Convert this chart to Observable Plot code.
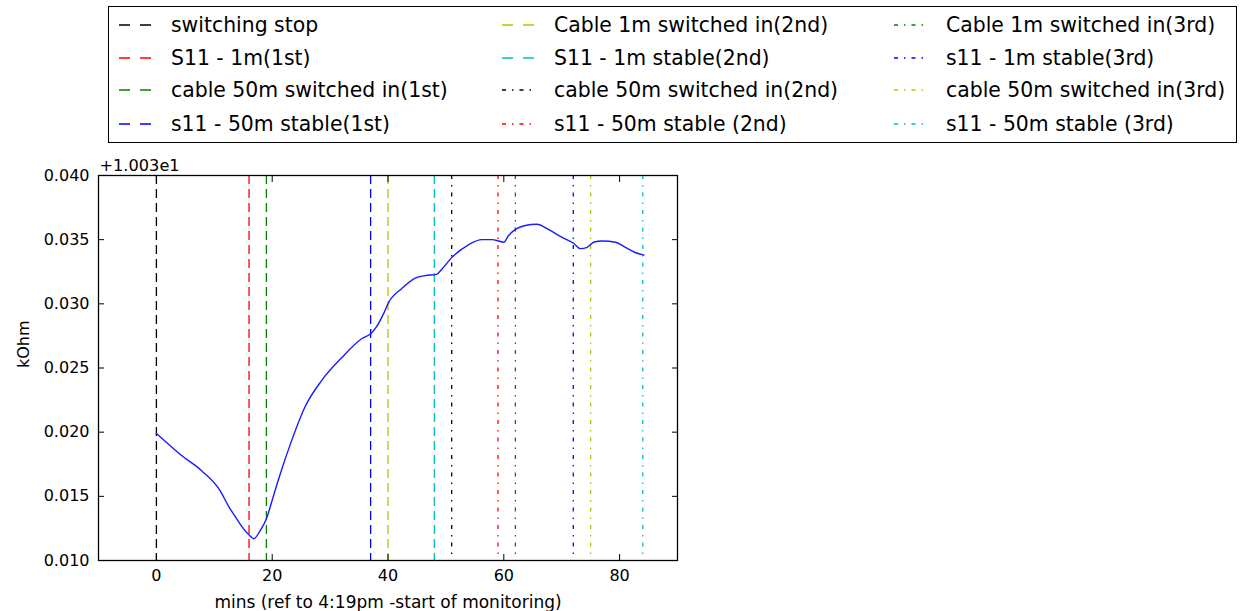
<!DOCTYPE html>
<html><head><meta charset="utf-8">
<script src="https://cdn.jsdelivr.net/npm/d3@7"></script>
<script src="https://cdn.jsdelivr.net/npm/@observablehq/plot@0.6"></script>
<style>
body{margin:0;background:#fff;font-family:"DejaVu Sans",sans-serif;}
#wrap{position:relative;width:1241px;height:611px;overflow:hidden;background:#fff;}
#legend{position:absolute;left:108px;top:6px;width:1127px;height:135px;border:1.5px solid #000;background:#fff;}
.item{position:absolute;height:30px;display:flex;align-items:center;font-size:20.4px;color:#000;white-space:nowrap;}
.item svg{margin-right:20px;}
#chart{position:absolute;left:0;top:150px;}
</style></head><body><div id="wrap"><div id="legend"></div><div id="chart"></div></div>
<script>
// ---- data ----
const eventLabels = [
  "switching stop", "S11 - 1m(1st)", "cable 50m switched in(1st)", "s11 - 50m stable(1st)",
  "Cable 1m switched in(2nd)", "S11 - 1m stable(2nd)", "cable 50m switched in(2nd)", "s11 - 50m stable (2nd)",
  "Cable 1m switched in(3rd)", "s11 - 1m stable(3rd)", "cable 50m switched in(3rd)", "s11 - 50m stable (3rd)"
];
const eventTimes = [0, 16, 19, 37, 40, 48, 51, 59, 62, 72, 75, 84];
const eventColorCodes = ["k", "r", "g", "b", "y", "c", "k", "r", "g", "b", "y", "c"];
const eventLineStyles = ["--", "--", "--", "--", "--", "--", "-.", "-.", "-.", "-.", "-.", "-."];

const minutes = [0, 2, 4.3, 7.8, 11, 12.5, 13.5, 15, 16.1, 16.8, 17.9, 19, 20, 21, 23.4, 25.7, 28.5, 32, 35.5,
  37.1, 38, 39.2, 40.1, 42.4, 44.7, 46.4, 48.4, 49.3, 51, 53.9, 56.2, 58, 59.1, 60, 60.8, 62, 63.7, 65.7,
  67.7, 70, 72.1, 73.2, 74.4, 75.5, 77, 79.3, 81, 82.7, 84.2];
const kOhmOffset = [0.0199, 0.0191, 0.0182, 0.0170, 0.01545, 0.0142, 0.0135, 0.0125, 0.01195, 0.0117, 0.0123, 0.01325, 0.0147, 0.0162, 0.0194, 0.0220, 0.0240, 0.0258, 0.0273,
  0.0277, 0.0282, 0.0292, 0.0301, 0.0312, 0.0320, 0.0322, 0.0323, 0.0327, 0.0336, 0.0346, 0.0350, 0.0350, 0.0349, 0.0348, 0.0353, 0.0358, 0.0361, 0.0362,
  0.0358, 0.0352, 0.0347, 0.0343, 0.0344, 0.0348, 0.0349, 0.0348, 0.0344, 0.0340, 0.0338];

const yOffsetLabel = "+1.003e1";
const xTicks = [0, 20, 40, 60, 80];
const yTicks = [0.010, 0.015, 0.020, 0.025, 0.030, 0.035, 0.040];
const xLabel = "mins (ref to 4:19pm -start of monitoring)";
const yLabel = "kOhm";

// ---- styles ----
const mplColors = {b: "#0000ff", g: "#008000", r: "#ff0000", c: "#00bfbf", y: "#bfbf00", k: "#000000"};
const plotDash = {"--": "9,5", "-.": "4,6,1.5,6"};
const legendDash = {"--": "11,10", "-.": "4,6,1.5,6"};

const events = eventTimes.map((t, i) => ({t, label: eventLabels[i], color: mplColors[eventColorCodes[i]], style: eventLineStyles[i]}));
const series = minutes.map((t, i) => ({t, v: kOhmOffset[i]}));

// ---- legend ----
const legend = d3.select("#legend");
const colLeft = [10, 393, 785];
const rowCenter = [18, 51, 83, 117];
events.forEach((e, i) => {
  const col = Math.floor(i / 4), row = i % 4;
  const item = legend.append("div").attr("class", "item")
    .style("left", colLeft[col] + "px").style("top", (rowCenter[row] - 15) + "px");
  const svg = item.append("svg").attr("width", 32).attr("height", 30);
  svg.append("line").attr("x1", 0).attr("x2", 32).attr("y1", 15).attr("y2", 15)
    .attr("stroke", e.color).attr("stroke-width", 1.4).attr("stroke-dasharray", legendDash[e.style]);
  item.append("span").text(e.label);
});

// ---- chart ----
const chart = Plot.plot({
  width: 700,
  height: 461,
  marginTop: 25,
  marginBottom: 51,
  marginLeft: 98,
  marginRight: 23,
  x: {domain: [-10, 90]},
  y: {domain: [0.010, 0.040]},
  style: {fontFamily: "DejaVu Sans", fontSize: "16px", color: "#000", background: "transparent", overflow: "visible"},
  marks: [
    Plot.ruleX(events.filter(e => e.style === "--"), {x: "t", stroke: "color", strokeWidth: 1.3, strokeDasharray: plotDash["--"]}),
    Plot.ruleX(events.filter(e => e.style === "-."), {x: "t", stroke: "color", strokeWidth: 1.3, strokeDasharray: plotDash["-."]}),
    Plot.line(series, {x: "t", y: "v", stroke: "#1a1aff", strokeWidth: 1.4, curve: "monotone-x"}),
    Plot.axisX(xTicks, {anchor: "bottom", tickSize: -6, tickPadding: 15, label: null, fontSize: 16}),
    Plot.axisX(xTicks, {anchor: "top", tickSize: -6, tickFormat: () => "", label: null}),
    Plot.axisY(yTicks, {anchor: "left", tickSize: -6, tickPadding: 15, tickFormat: d3.format(".3f"), label: null, fontSize: 16}),
    Plot.axisY(yTicks, {anchor: "right", tickSize: -6, tickFormat: () => "", label: null}),
    Plot.frame({stroke: "#000", strokeWidth: 1.3}),
    Plot.text([yOffsetLabel], {frameAnchor: "top-left", textAnchor: "start", lineAnchor: "bottom", dx: 1, dy: -5, fontSize: 16.2}),
    Plot.text([xLabel], {frameAnchor: "bottom", lineAnchor: "middle", dy: 42, fontSize: 17}),
    Plot.text([yLabel], {frameAnchor: "left", lineAnchor: "middle", rotate: -90, dx: -75, fontSize: 16})
  ]
});
document.getElementById("chart").appendChild(chart);
</script></body></html>
